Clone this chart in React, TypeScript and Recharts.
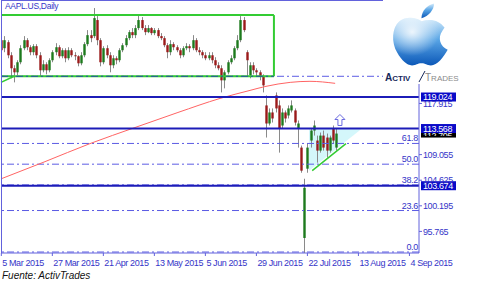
import { ComposedChart, Bar, Line, Area, XAxis, YAxis, ReferenceLine, ReferenceDot } from 'recharts';

const tickIdx = [0, 16, 32, 48, 64, 80, 96, 112, 128];
const tickLabels = ['5 Mar 2015', '27 Mar 2015', '21 Apr 2015', '13 May 2015', '5 Jun 2015', '29 Jun 2015', '22 Jul 2015', '13 Aug 2015', '4 Sep 2015'];
const priceTicks = [95.765, 100.195, 104.625, 109.055, 117.915];

const opens = [128.86, 127.47, 128.51, 126.25, 124.0, 123.3, 125.04, 127.47, 128.86, 127.64, 126.78, 127.82, 126.25, 123.65, 124.69, 123.65, 125.39, 126.78, 127.64, 126.08, 127.12, 125.73, 127.12, 126.25, 126.08, 124.86, 126.25, 128.17, 129.73, 129.56, 132.34, 128.86, 125.04, 127.47, 126.25, 124.52, 125.73, 125.39, 127.12, 127.99, 129.21, 130.25, 129.73, 130.95, 132.34, 130.95, 130.25, 130.95, 130.08, 130.6, 129.56, 129.21, 127.99, 126.78, 128.17, 127.64, 127.12, 126.25, 127.47, 127.82, 127.47, 128.86, 127.12, 126.78, 126.25, 125.73, 126.25, 125.39, 124.52, 124.0, 121.91, 123.3, 125.04, 125.73, 127.47, 128.86, 132.34, 126.78, 122.78, 124.52, 123.65, 123.3, 122.61, 117.57, 114.44, 116.35, 119.3, 117.57, 114.09, 116.35, 115.83, 116.7, 116.7, 113.57, 110.27, 94.63, 106.62, 111.49, 113.22, 111.49, 109.75, 112.35, 112.01, 109.75, 113.57, 110.27];
const highs = [129.56, 129.56, 128.86, 126.78, 124.52, 125.39, 127.99, 129.56, 129.21, 127.99, 128.17, 128.17, 126.78, 125.39, 125.04, 125.73, 127.12, 128.34, 127.99, 127.47, 127.47, 127.64, 127.47, 126.78, 126.25, 126.78, 128.51, 130.6, 130.6, 134.42, 133.03, 129.21, 127.82, 127.99, 126.78, 126.25, 126.08, 127.47, 128.34, 129.73, 130.6, 130.95, 131.47, 133.2, 132.86, 131.47, 131.47, 131.12, 130.95, 130.95, 130.08, 129.56, 128.34, 128.86, 128.51, 127.99, 127.47, 127.82, 128.34, 128.17, 129.73, 129.21, 127.64, 127.12, 126.78, 126.78, 126.78, 125.91, 125.04, 124.52, 123.65, 125.39, 126.25, 127.82, 129.73, 133.03, 132.86, 127.12, 125.04, 125.04, 124.0, 123.65, 122.95, 119.3, 117.05, 117.05, 119.82, 118.44, 117.05, 116.7, 117.57, 118.44, 117.05, 114.96, 110.62, 104.88, 110.96, 113.57, 114.96, 112.35, 112.88, 113.22, 112.7, 112.35, 114.09, 113.57];
const lows = [126.25, 126.78, 125.73, 122.26, 121.56, 122.78, 124.69, 127.12, 127.12, 126.25, 126.25, 125.73, 122.61, 123.3, 122.95, 123.3, 125.04, 126.25, 125.73, 125.73, 125.04, 125.39, 125.91, 125.39, 124.34, 124.52, 125.91, 127.82, 128.51, 129.21, 127.99, 124.34, 124.69, 125.73, 123.3, 124.0, 124.69, 125.04, 126.78, 127.64, 128.86, 129.21, 129.21, 130.6, 130.6, 129.73, 130.08, 129.73, 129.73, 129.21, 128.86, 127.64, 125.73, 126.25, 127.12, 126.78, 125.73, 125.91, 127.12, 126.78, 127.12, 126.78, 126.25, 125.73, 125.39, 125.39, 124.86, 124.0, 123.65, 119.82, 120.52, 122.95, 124.69, 125.39, 127.12, 128.51, 130.25, 122.61, 122.26, 122.95, 122.61, 121.91, 119.82, 112.01, 114.09, 114.61, 116.35, 109.4, 113.57, 114.61, 115.31, 116.35, 114.09, 110.27, 105.92, 92.03, 105.92, 110.27, 112.35, 107.66, 109.4, 109.75, 108.53, 109.4, 110.96, 109.75];
const closes = [127.12, 128.86, 126.25, 124.0, 123.3, 125.04, 127.47, 128.86, 127.64, 126.78, 127.82, 126.25, 123.65, 124.69, 123.65, 125.39, 126.78, 127.64, 126.08, 127.12, 125.73, 127.12, 126.25, 126.08, 124.86, 126.25, 128.17, 129.73, 129.21, 132.68, 128.86, 125.04, 127.47, 126.25, 124.52, 125.73, 125.39, 127.12, 127.99, 129.21, 130.25, 129.73, 130.95, 132.34, 130.95, 130.25, 130.95, 130.08, 130.6, 129.56, 129.21, 127.99, 126.78, 128.17, 127.64, 127.12, 126.25, 127.47, 127.82, 127.47, 128.86, 127.12, 126.78, 126.25, 125.73, 126.25, 125.39, 124.52, 124.0, 121.91, 123.3, 125.04, 125.73, 127.47, 128.86, 132.34, 130.6, 125.39, 124.52, 123.65, 123.3, 122.61, 121.04, 114.44, 116.35, 115.31, 117.05, 113.57, 116.35, 115.31, 117.05, 117.57, 114.61, 114.44, 106.28, 103.32, 110.27, 113.22, 114.09, 109.75, 112.35, 110.27, 109.75, 112.01, 111.49, 112.7];

// moving average, read at a few points
const maIdx = [0, 13.7, 27.8, 41.9, 55.4, 68.6, 78, 83, 90.6, 96.8, 104.7];
const maVals = [104.88, 107.84, 110.96, 113.74, 116.35, 118.78, 120.17, 120.87, 121.56, 121.74, 121.39];

const fibNames = ['0.0', '23.6', '38.2', '50.0', '61.8', '100.0'];
const fibVals = [92.2, 99.38, 103.82, 107.4, 110.99, 122.61];
const levels = [119.024, 113.568, 103.674];

const FONT = "'Liberation Sans', Arial, sans-serif";
const AXIS = '#6262dc';
const TXT = '#3535c8';

const candles = opens.map((o, i) => ({ i, o, h: highs[i], l: lows[i], c: closes[i], range: [lows[i], highs[i]] }));
const maData = maIdx.map((i, k) => ({ i, v: maVals[k] }));
const triData = [
  { i: 96.5, r: [106.28, 113.568] },
  { i: 113.1, r: [113.568, 113.568] },
];

const Candle = (props: any) => {
  const { x, y, width, height, payload } = props;
  if (!payload || height == null) return null;
  const { o, h, l, c } = payload;
  const k = height / (h - l);
  const cx = Math.round(x + width / 2) + 0.5;
  const top = y + (h - Math.max(o, c)) * k;
  const bot = y + (h - Math.min(o, c)) * k;
  return (
    <g>
      <line x1={cx} x2={cx} y1={y} y2={y + height} stroke="#8a8a8a" strokeWidth={1} />
      <rect x={cx - 1.2} y={top} width={2.4} height={Math.max(1, bot - top)} fill={c >= o ? '#1d7a1d' : '#9b1a1a'} />
    </g>
  );
};

const XTick = ({ x, y, payload }: any) => (
  <text x={x + 1} y={y + 8} fontSize={9} letterSpacing={-0.4} fill={TXT} fontFamily={FONT}>
    {tickLabels[tickIdx.indexOf(payload.value)]}
  </text>
);

const FibLabel = ({ viewBox, text }: any) => {
  if (!viewBox) return null;
  return (
    <text x={viewBox.x + viewBox.width - 1} y={viewBox.y - 2} textAnchor="end" fontSize={9} letterSpacing={-0.3} fill={TXT} fontFamily={FONT}>
      {text}
    </text>
  );
};

const PriceBox = ({ viewBox, text, extra }: any) => {
  if (!viewBox) return null;
  const bx = viewBox.x + viewBox.width + 2;
  const by = viewBox.y;
  return (
    <g fontFamily={FONT} fontSize={9} letterSpacing={-0.4}>
      {extra && <rect x={bx} y={by + 4} width={35} height={5} fill="#000" />}
      {extra && (
        <text x={bx + 2} y={by + 10} fill="#fff" clipPath="url(#blackClip)">
          {extra}
        </text>
      )}
      <rect x={bx} y={by - 4.5} width={35} height={9} fill="#0a0ac8" />
      <text x={bx + 2} y={by + 3.3} fill="#fff">{text}</text>
    </g>
  );
};

const UpArrow = ({ cx, cy }: any) => (
  <path
    d={`M${cx},${cy - 6} L${cx + 5},${cy - 1} L${cx + 2},${cy - 1} L${cx + 2},${cy + 5} L${cx - 2},${cy + 5} L${cx - 2},${cy - 1} L${cx - 5},${cy - 1} Z`}
    fill="#fff"
    stroke="#6a6ae0"
    strokeWidth={1}
  />
);

const Logo = () => (
  <svg width={102} height={86} style={{ position: 'absolute', left: 380, top: 0 }}>
    <defs>
      <linearGradient id="apg" x1="0" y1="0" x2="0" y2="1">
        <stop offset="0" stopColor="#d6ecfb" />
        <stop offset="0.45" stopColor="#5aa6e6" />
        <stop offset="1" stopColor="#0c58b8" />
      </linearGradient>
      <radialGradient id="aph" cx="0.35" cy="0.3" r="0.5">
        <stop offset="0" stopColor="#ffffff" stopOpacity="0.85" />
        <stop offset="1" stopColor="#ffffff" stopOpacity="0" />
      </radialGradient>
    </defs>
    <rect x={3} y={0} width={99} height={84} fill="#fff" />
    <g transform="translate(11,15) scale(1.05)">
      <path
        d="M29 6 C24 2 14 1 8 6 C1 12 0 26 6 36 C10 43 15 48 20 48 C24 48 25 46 29 46 C33 46 34 48 38 48 C44 48 50 40 54 33 C47 30 44 22 49 15 L51 12 C46 5 38 3 29 6 Z"
        fill="url(#apg)"
      />
      <path
        d="M29 6 C24 2 14 1 8 6 C1 12 0 26 6 36 C10 43 15 48 20 48 C24 48 25 46 29 46 C33 46 34 48 38 48 C44 48 50 40 54 33 C47 30 44 22 49 15 L51 12 C46 5 38 3 29 6 Z"
        fill="url(#aph)"
      />
      <path d="M29 3 C29 -4 35 -10 41 -11 C41 -5 36 1 29 3 Z" fill="url(#apg)" />
    </g>
    <text x={5} y={81} fontFamily={FONT} fontWeight="bold" fontSize={10} fill="#16285a">
      A<tspan fontSize={8}>CTIV</tspan>
    </text>
    <line x1={39} y1={82} x2={45} y2={71} stroke="#16285a" strokeWidth={1} />
    <text x={45} y={81} fontFamily={FONT} fontSize={10} fill="#8a8a8a">
      T<tspan fontSize={8}>RADES</tspan>
    </text>
  </svg>
);

export default function App() {
  return (
    <div style={{ position: 'absolute', left: 0, top: 0, width: 482, height: 286, background: '#fff', overflow: 'hidden' }}>
      <svg width={0} height={0} style={{ position: 'absolute' }}>
        <defs>
          <clipPath id="blackClip">
            <rect x={420} y={130} width={40} height={6} />
          </clipPath>
        </defs>
      </svg>
      <ComposedChart width={482} height={272} data={candles} margin={{ top: 1, right: 0, left: 1, bottom: 0 }}>
        <XAxis
          dataKey="i"
          type="number"
          domain={[-0.1, 131]}
          allowDataOverflow
          ticks={tickIdx}
          tick={<XTick />}
          tickSize={3}
          tickMargin={2}
          height={19}
          stroke={AXIS}
          interval={0}
        />
        <YAxis
          orientation="right"
          type="number"
          domain={[92.03, 135.64]}
          allowDataOverflow
          ticks={priceTicks}
          width={63}
          tickSize={3}
          tickMargin={1}
          stroke={AXIS}
          tick={{ fill: TXT, fontSize: 9, fontFamily: FONT, letterSpacing: -0.4 }}
          tickFormatter={(v: number) => v.toFixed(3)}
          interval={0}
        />
        <Area data={triData} dataKey="r" type="linear" fill="#d4f7fb" fillOpacity={1} stroke="none" isAnimationActive={false} />
        {fibVals.map((v, k) => (
          <ReferenceLine
            key={fibNames[k]}
            y={v}
            stroke="#5c5ce4"
            strokeDasharray="7 3 2 3"
            label={<FibLabel text={fibNames[k]} />}
          />
        ))}
        <ReferenceLine segment={[{ x: -0.1, y: 133.2 }, { x: 85.5, y: 133.2 }]} stroke="#33cc33" strokeWidth={2} />
        <ReferenceLine segment={[{ x: 85.5, y: 133.2 }, { x: 85.5, y: 122.61 }]} stroke="#33cc33" strokeWidth={2} />
        <ReferenceLine segment={[{ x: -0.1, y: 122.61 }, { x: 85.5, y: 122.61 }]} stroke="#33cc33" strokeWidth={2} />
        <ReferenceLine segment={[{ x: -0.1, y: 122.61 }, { x: 85.5, y: 122.61 }]} stroke="#2a4aa8" strokeDasharray="7 3 2 3" />
        <ReferenceLine segment={[{ x: -0.1, y: 121.56 }, { x: 4, y: 122.61 }]} stroke="#33cc33" strokeWidth={1.5} />
        <Line data={maData} dataKey="v" type="monotone" stroke="#ff6464" strokeWidth={1} dot={false} isAnimationActive={false} />
        <ReferenceLine y={levels[0]} stroke="#1c1cb8" strokeWidth={2} label={<PriceBox text="119.024" />} />
        <ReferenceLine y={levels[1]} stroke="#1c1cb8" strokeWidth={2} label={<PriceBox text="113.568" extra="112.705" />} />
        <ReferenceLine y={levels[2]} stroke="#1c1cb8" strokeWidth={2} label={<PriceBox text="103.674" />} />
        <Bar dataKey="range" barSize={3} shape={<Candle />} isAnimationActive={false} />
        <ReferenceLine segment={[{ x: 97.5, y: 106.28 }, { x: 108.1, y: 110.96 }]} stroke="#33cc33" strokeWidth={1.5} />
        <ReferenceDot x={106.2} y={114.96} r={5} shape={<UpArrow />} />
      </ComposedChart>
      <div style={{ position: 'absolute', left: 1, top: 0, width: 418, height: 252, borderTop: `1px solid ${AXIS}`, borderLeft: `1px solid ${AXIS}`, pointerEvents: 'none' }} />
      <div style={{ position: 'absolute', left: 5, top: 1, fontFamily: FONT, fontSize: 8.5, letterSpacing: -0.3, color: TXT }}>AAPL.US,Daily</div>
      <Logo />
      <div style={{ position: 'absolute', left: 2, top: 270, fontFamily: FONT, fontStyle: 'italic', fontSize: 10, color: '#111' }}>
        Fuente: ActivTrades
      </div>
    </div>
  );
}
